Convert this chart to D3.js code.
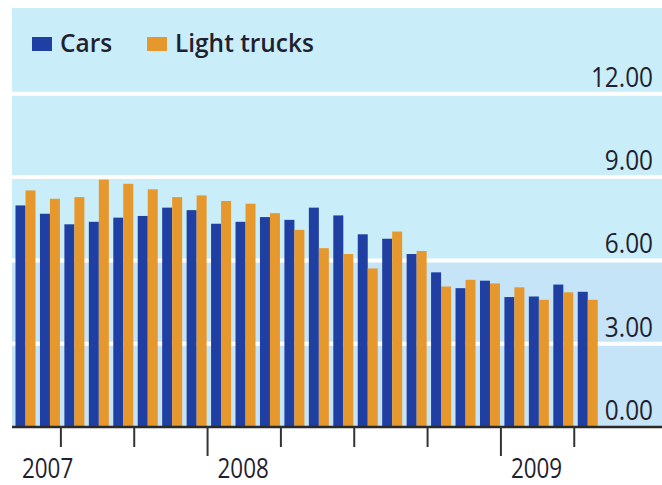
<!DOCTYPE html>
<html>
<head>
<meta charset="utf-8">
<script src="https://cdn.jsdelivr.net/npm/d3@7"></script>
<style>
  html, body { margin: 0; padding: 0; background: #ffffff; }
  svg { display: block; }
  .lbl { font-family: "Open Sans", "Liberation Sans", sans-serif; fill: #1f2130; }
</style>
</head>
<body>
<svg id="chart" width="662" height="485"></svg>
<script>
// ---- data ----
const months = ["2007-05","2007-06","2007-07","2007-08","2007-09","2007-10","2007-11","2007-12",
                "2008-01","2008-02","2008-03","2008-04","2008-05","2008-06","2008-07","2008-08",
                "2008-09","2008-10","2008-11","2008-12","2009-01","2009-02","2009-03","2009-04"];
const cars = [7.98,7.68,7.30,7.39,7.54,7.60,7.90,7.81,7.32,7.39,7.56,7.46,
              7.90,7.62,6.94,6.78,6.23,5.57,5.00,5.27,4.68,4.70,5.13,4.87];
const lightTrucks = [8.52,8.22,8.28,8.91,8.76,8.56,8.28,8.34,8.14,8.04,7.70,7.10,
                     6.44,6.23,5.71,7.04,6.34,5.06,5.30,5.17,5.03,4.58,4.85,4.58];
const seriesNames = ["Cars","Light trucks"];
const seriesColors = ["#1f3fa3","#e6982c"];
const yTicks = [0,3,6,9,12];
const yearLabels = ["2007","2008","2009"];

// ---- layout ----
const svg = d3.select("#chart");
const W = 662, H = 485;
const panel = {left: 12, top: 8, right: 662, bottom: 427};
const plotRight = 598.7;

const x = d3.scaleBand().domain(months).range([panel.left, plotRight]).paddingInner(0).paddingOuter(0);
const xSub = d3.scaleBand().domain(seriesNames).range([3.5, 23.5]).padding(0);
const y = d3.scaleLinear().domain([0, 12]).range([panel.bottom, 93.8]);

// background panel
svg.append("rect").attr("x", panel.left).attr("y", panel.top)
  .attr("width", panel.right - panel.left).attr("height", panel.bottom - panel.top)
  .attr("fill", "#c9eef9");
svg.append("rect").attr("x", panel.left).attr("y", y(6))
  .attr("width", panel.right - panel.left).attr("height", panel.bottom - y(6))
  .attr("fill", "#c6e4f7");

// gridlines (behind bars)
svg.append("g").selectAll("line").data(yTicks.filter(d => d > 0)).join("line")
  .attr("x1", panel.left).attr("x2", panel.right)
  .attr("y1", d => y(d)).attr("y2", d => y(d))
  .attr("stroke", "#ffffff").attr("stroke-width", 4);

// bars
const rows = months.map((m, i) => ({m, vals: [cars[i], lightTrucks[i]]}));
const g = svg.append("g");
rows.forEach(r => {
  r.vals.forEach((v, j) => {
    g.append("rect")
      .attr("x", x(r.m) + xSub(seriesNames[j]))
      .attr("width", xSub.bandwidth())
      .attr("y", y(v))
      .attr("height", y(0) - y(v))
      .attr("fill", seriesColors[j]);
  });
});

// y labels (condensed look via horizontal scale)
svg.append("g").selectAll("text").data(yTicks).join("text")
  .attr("class", "lbl")
  .attr("transform", d => `translate(653,${y(d) - 7}) scale(0.87,1)`)
  .attr("text-anchor", "end")
  .attr("font-size", 28)
  .attr("font-weight", 500)
  .text(d => d3.format(".2f")(d));

// x axis line
svg.append("line").attr("x1", panel.left).attr("x2", W)
  .attr("y1", panel.bottom).attr("y2", panel.bottom)
  .attr("stroke", "#2a2a2a").attr("stroke-width", 2.5);

// quarter ticks
const quarterStarts = months.filter((m, i) => i > 0 && ["01","04","07","10"].includes(m.slice(5)));
svg.append("g").selectAll("line").data(quarterStarts).join("line")
  .attr("x1", d => x(d)).attr("x2", d => x(d))
  .attr("y1", panel.bottom)
  .attr("y2", d => panel.bottom + (d.slice(5) === "01" ? 29 : 20))
  .attr("stroke", "#333").attr("stroke-width", 2);

// year labels
svg.append("g").selectAll("text").data(yearLabels).join("text")
  .attr("class", "lbl")
  .attr("transform", d => {
    const jan = d + "-01";
    const lx = (months.includes(jan) ? x(jan) : panel.left) + 10;
    return `translate(${lx},478) scale(0.8,1)`;
  })
  .attr("font-size", 28)
  .attr("font-weight", 500)
  .text(d => d);

// legend
const legX = [32, 147];
seriesNames.forEach((s, i) => {
  svg.append("rect").attr("x", legX[i]).attr("y", 37).attr("width", 20).attr("height", 14)
    .attr("fill", seriesColors[i]);
  svg.append("text").attr("class", "lbl")
    .attr("transform", `translate(${legX[i] + 28},52) scale(0.94,1)`)
    .attr("font-size", 26).attr("font-weight", 600)
    .text(s);
});
</script>
</body>
</html>
